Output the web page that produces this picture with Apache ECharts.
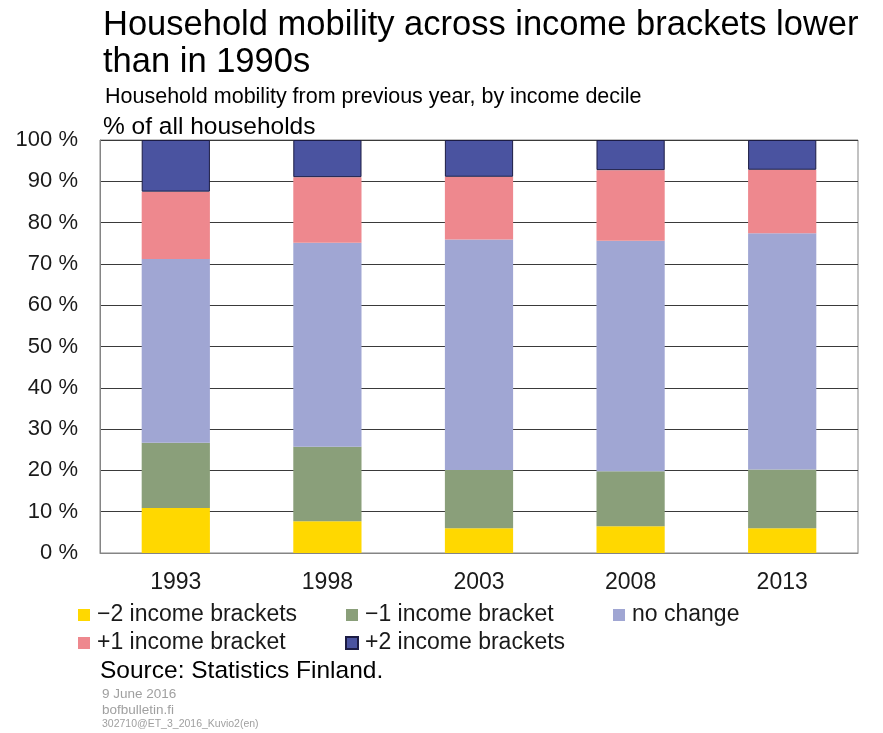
<!DOCTYPE html>
<html>
<head>
<meta charset="utf-8">
<script src="https://cdn.jsdelivr.net/npm/echarts@6/dist/echarts.min.js"></script>
<style>
html,body{margin:0;padding:0;background:#fff;}
#chart{width:883px;height:733px;}
</style>
</head>
<body>
<div id="chart"></div>
<script>
const categories = ['1993', '1998', '2003', '2008', '2013'];
const minus2 = [10.9, 7.7, 6.0, 6.5, 6.0];
const minus1 = [15.8, 18.0, 14.1, 13.3, 14.2];
const noChange = [44.5, 49.4, 55.8, 55.8, 57.2];
const plus1 = [16.3, 15.9, 15.2, 17.1, 15.4];
const plus2 = [12.5, 9.0, 8.9, 7.3, 7.2];
const seriesNames = ['\u22122 income brackets', '\u22121 income bracket', 'no change', '+1 income bracket', '+2 income brackets'];
const seriesColors = ['#FFD800', '#8A9F7A', '#A0A6D3', '#EE888E', '#4A53A0'];
const seriesData = [minus2, minus1, noChange, plus1, plus2];
const yTicks = { min: 0, max: 100, interval: 10 };

const FONT = '"Liberation Sans", Arial, sans-serif';
const chart = echarts.init(document.getElementById('chart'));

const legendPos = [
  { left: 78, top: 603.5 },
  { left: 346, top: 603.5 },
  { left: 613, top: 603.5 },
  { left: 78, top: 631.5 },
  { left: 345, top: 631.5 }
];

const legends = seriesNames.map((n, i) => ({
  data: [n],
  left: legendPos[i].left,
  top: legendPos[i].top,
  padding: 0,
  itemWidth: 12,
  itemHeight: 12,
  icon: 'rect',
  selectedMode: false,
  textStyle: { fontFamily: FONT, fontSize: 23, lineHeight: 23, color: '#1a1a1a', padding: [0, 0, 0, 2] }
}));

const titles = [
  { text: 'Household mobility across income brackets lower\nthan in 1990s', left: 103, top: 6.5,
    textStyle: { fontFamily: FONT, fontSize: 34.5, lineHeight: 37, fontWeight: 'normal', color: '#000' } },
  { text: 'Household mobility from previous year, by income decile', left: 105, top: 87,
    textStyle: { fontFamily: FONT, fontSize: 21.5, lineHeight: 21, fontWeight: 'normal', color: '#000' } },
  { text: '% of all households', left: 103, top: 115,
    textStyle: { fontFamily: FONT, fontSize: 24.5, lineHeight: 24, fontWeight: 'normal', color: '#000' } },
  { text: 'Source: Statistics Finland.', left: 100, top: 659,
    textStyle: { fontFamily: FONT, fontSize: 24.5, lineHeight: 24, fontWeight: 'normal', color: '#000' } },
  { text: '9 June 2016', left: 102, top: 688,
    textStyle: { fontFamily: FONT, fontSize: 13.5, lineHeight: 13, fontWeight: 'normal', color: '#a0a0a0' } },
  { text: 'bofbulletin.fi', left: 102, top: 704,
    textStyle: { fontFamily: FONT, fontSize: 13.5, lineHeight: 13, fontWeight: 'normal', color: '#a0a0a0' } },
  { text: '302710@ET_3_2016_Kuvio2(en)', left: 102, top: 719,
    textStyle: { fontFamily: FONT, fontSize: 10.5, lineHeight: 10.5, fontWeight: 'normal', color: '#a0a0a0' } }
].map(t => Object.assign({ padding: 0 }, t));

const series = seriesNames.map((n, i) => ({
  name: n,
  type: 'bar',
  stack: 'total',
  barWidth: '45%',
  data: seriesData[i],
  itemStyle: i === 4
    ? { color: seriesColors[i], borderColor: '#1c1c44', borderWidth: 1 }
    : { color: seriesColors[i] },
  emphasis: { disabled: true }
}));

chart.setOption({
  animation: false,
  backgroundColor: '#fff',
  color: seriesColors,
  title: titles,
  legend: legends,
  grid: { left: 100, right: 25, top: 140, bottom: 180, show: true, borderColor: '#858585', borderWidth: 1, containLabel: false },
  xAxis: {
    type: 'category',
    data: categories,
    axisTick: { show: false },
    axisLine: { lineStyle: { color: '#858585', width: 1 } },
    axisLabel: { fontFamily: FONT, fontSize: 23, color: '#1a1a1a', margin: 18 },
    splitLine: { show: false }
  },
  yAxis: {
    type: 'value',
    min: yTicks.min, max: yTicks.max, interval: yTicks.interval,
    axisLine: { show: true, lineStyle: { color: '#858585', width: 1 } },
    axisTick: { show: false },
    axisLabel: { fontFamily: FONT, fontSize: 22, color: '#1a1a1a', margin: 22, formatter: '{value} %' },
    splitLine: { show: true, lineStyle: { color: '#3a3a3a', width: 1 } }
  },
  series: series
});
</script>
</body>
</html>
